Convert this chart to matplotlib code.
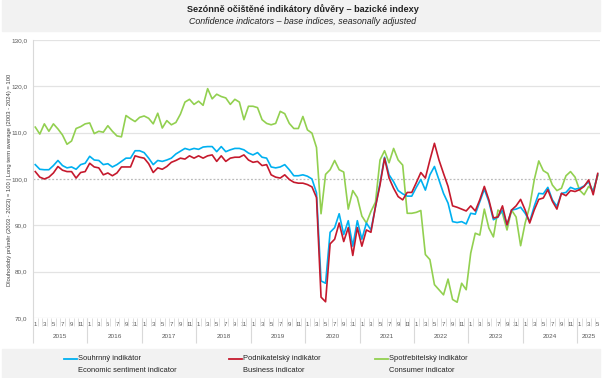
import matplotlib.pyplot as plt
from matplotlib.patches import Rectangle

plt.rcParams['font.family'] = ['Liberation Sans', 'DejaVu Sans']

# monthly values, Jan 2015 - May 2025
souhrnny = [103.1, 102.1, 102.0, 102.0, 102.9, 104.0, 102.9, 102.4, 102.6, 102.1, 103.1, 103.4,
            104.9, 104.1, 104.0, 103.1, 103.3, 102.6, 103.1, 103.8, 104.5, 104.5, 106.1, 106.1,
            105.7, 104.5, 103.1, 104.0, 103.8, 104.1, 104.5, 105.4, 106.0, 106.6, 106.3, 106.6,
            106.4, 106.9, 107.0, 107.0, 105.9, 107.0, 105.9, 106.3, 106.6, 106.6, 106.3, 105.6,
            105.2, 105.7, 104.7, 104.5, 102.6, 102.4, 102.6, 103.1, 102.0, 100.7, 100.7, 100.9,
            100.6, 100.0, 97.0, 78.0, 77.5, 88.5, 89.5, 92.5, 88.0, 91.0, 85.5, 91.0,
            87.0, 90.5, 89.0, 94.0, 99.1, 104.7, 100.9, 99.4, 97.5, 96.8, 96.3, 96.3,
            98.2, 99.9, 97.6, 100.9, 102.7, 99.8, 96.9, 94.8, 90.8, 90.6, 90.8, 90.3,
            92.6, 92.4, 95.1, 97.8, 95.1, 91.2, 91.8, 93.3, 90.1, 93.3, 93.5, 93.9,
            92.6, 90.8, 94.1, 96.9, 96.8, 98.2, 95.5, 94.1, 96.9, 97.1, 98.2, 97.8,
            98.0, 98.5, 99.4, 97.2, 101.0]
podnikatelsky = [101.6, 100.4, 100.0, 100.4, 101.3, 102.7, 101.9, 101.6, 101.6, 100.2, 101.4, 101.6,
                 103.4, 102.6, 102.4, 100.9, 101.3, 100.7, 101.3, 102.6, 102.6, 102.6, 105.0, 104.7,
                 104.5, 103.3, 101.4, 102.4, 102.1, 102.7, 103.6, 104.0, 104.5, 104.3, 105.0, 104.5,
                 105.0, 104.5, 105.0, 105.2, 103.8, 105.0, 103.8, 104.5, 104.7, 104.7, 105.2, 104.1,
                 103.6, 103.8, 102.9, 103.1, 100.9, 100.4, 100.2, 100.9, 99.9, 99.3, 99.1, 99.1,
                 98.8, 98.3, 96.0, 74.5, 73.5, 86.0, 87.0, 90.5, 86.5, 89.5, 83.5, 89.5,
                 85.5, 89.0, 88.5, 94.0, 98.7, 104.5, 100.2, 98.0, 96.2, 95.5, 97.1, 97.1,
                 99.2, 101.4, 100.2, 104.1, 107.7, 104.1, 101.2, 98.4, 94.2, 93.9, 93.5, 93.1,
                 94.2, 93.1, 95.5, 98.4, 95.5, 91.6, 91.8, 94.2, 90.1, 93.3, 94.2, 95.6,
                 93.3, 90.5, 93.3, 95.6, 95.9, 97.7, 95.2, 93.5, 96.9, 96.4, 97.5, 97.3,
                 97.7, 98.4, 99.8, 96.6, 101.2]
spotrebitelsky = [111.2, 109.7, 111.9, 110.3, 111.9, 110.8, 109.5, 107.5, 108.2, 110.9, 111.3, 111.9,
                  112.1, 109.8, 110.3, 110.1, 111.5, 110.3, 109.3, 109.1, 113.7, 113.0, 112.4, 113.3,
                  113.6, 113.1, 111.9, 114.2, 111.0, 112.6, 111.7, 112.2, 114.0, 116.6, 117.2, 116.1,
                  116.8, 115.9, 119.5, 117.3, 118.3, 117.8, 117.5, 116.1, 117.2, 116.6, 112.8, 115.7,
                  115.7, 115.4, 112.8, 112.0, 111.7, 112.0, 114.6, 114.1, 112.0, 110.9, 110.9, 113.5,
                  110.6, 109.9, 106.8, 92.5, 101.0, 102.0, 104.0, 102.0, 101.5, 93.5, 97.5, 96.0,
                  92.0, 90.5, 93.0, 95.0, 104.1, 106.1, 103.5, 106.6, 104.1, 103.0, 92.6, 92.6,
                  92.8, 93.2, 83.7, 82.6, 77.2, 76.1, 75.0, 78.4, 74.0, 73.4, 77.5, 76.1,
                  84.0, 88.3, 87.9, 93.5, 89.4, 87.5, 93.3, 92.6, 89.0, 93.3, 91.8, 85.6,
                  90.5, 94.1, 99.8, 103.9, 101.8, 101.2, 98.7, 97.5, 98.0, 100.7, 101.6, 100.4,
                  97.6, 96.6, 98.4, 97.5, 100.7]
roky = ['2015', '2016', '2017', '2018', '2019', '2020', '2021', '2022', '2023', '2024', '2025']
y_ticks = [70, 80, 90, 100, 110, 120, 130]

n = len(souhrnny)
x = list(range(n))

fig = plt.figure(figsize=(6.05, 3.78), dpi=100)

# grey bands for title and legend
fig.patches.append(Rectangle((2 / 605, 1 - 31 / 378), 598 / 605, 31 / 378,
                             transform=fig.transFigure, color='#f2f2f2', zorder=0))
fig.patches.append(Rectangle((2 / 605, 0), 598 / 605, 29 / 378,
                             transform=fig.transFigure, color='#f2f2f2', zorder=0))

fig.text(0.5, 1 - 9 / 378, 'Sezónně očištěné indikátory důvěry – bazické indexy',
         ha='center', va='center', fontsize=6.6, fontweight='bold', color='#222222')
fig.text(0.5, 1 - 21 / 378, 'Confidence indicators – base indices, seasonally adjusted',
         ha='center', va='center', fontsize=6.4, style='italic', color='#222222')

ax = fig.add_axes([33 / 605, 60 / 378, 567 / 605, 278 / 378])
ax.set_xlim(-0.5, n - 0.5)
ax.set_ylim(70, 130)

for v in y_ticks:
    if v == 100:
        ax.axhline(v, color='#bbbbbb', lw=0.9, ls=(0, (1.5, 1.5)), zorder=1)
    else:
        ax.axhline(v, color='#e3e3e3', lw=0.9, zorder=1)

ax.plot(x, spotrebitelsky, color='#92d050', lw=1.2, zorder=3)
ax.plot(x, souhrnny, color='#00b0f0', lw=1.2, zorder=3)
ax.plot(x, podnikatelsky, color='#c5192d', lw=1.2, zorder=4)

for s in ['top', 'right', 'bottom']:
    ax.spines[s].set_visible(False)
ax.spines['left'].set_color('#d9d9d9')
ax.spines['left'].set_linewidth(0.8)

ax.set_yticks(y_ticks)
ax.set_yticklabels(['%d,0' % v for v in y_ticks], fontsize=4.6, color='#595959')
ax.tick_params(axis='y', length=0, pad=4)

mesice = [i for i in x if i % 12 in (0, 2, 4, 6, 8, 10)]
ax.set_xticks(mesice)
ax.set_xticklabels([str(i % 12 + 1) for i in mesice], fontsize=4.4, color='#595959')
ax.tick_params(axis='x', length=0, pad=3)

# month separators and year separators below the axis
trans = ax.get_xaxis_transform()
ax.vlines([i - 0.5 for i in x[1:]], -0.03, 0, transform=trans, color='#d9d9d9',
          lw=0.6, clip_on=False)
starts = list(range(0, n, 12))
ax.vlines([s - 0.5 for s in starts[1:]], -0.09, 0, transform=trans, color='#d9d9d9',
          lw=0.8, clip_on=False)
ax.vlines([-0.5], -0.09, 0, transform=trans, color='#d9d9d9', lw=0.8, clip_on=False)
for k, s in enumerate(starts):
    e = min(s + 12, n)
    ax.text((s + e - 1) / 2, -0.066, roky[k], transform=trans, ha='center', va='center',
            fontsize=4.6, color='#595959')

fig.text(9 / 605, 1 - 180 / 378,
         'Dlouhodobý průměr (2003 - 2023) = 100 | Long term average (2003 - 2024) = 100',
         rotation=90, ha='center', va='center', fontsize=4.2, color='#404040')

# legend
leg = [('#00b0f0', 'Souhrnný indikátor', 'Economic sentiment indicator', 64),
       ('#c5192d', 'Podnikatelský indikátor', 'Business indicator', 229),
       ('#92d050', 'Spotřebitelský indikátor', 'Consumer indicator', 375)]
for c, t1, t2, px in leg:
    fig.lines.append(plt.Line2D([px / 605, (px + 13) / 605], [1 - 359 / 378, 1 - 359 / 378],
                                transform=fig.transFigure, color=c, lw=1.3))
    fig.text((px + 14) / 605, 1 - 359 / 378, t1, ha='left', va='center', fontsize=5.4,
             color='#222222')
    fig.text((px + 14) / 605, 1 - 370 / 378, t2, ha='left', va='center', fontsize=5.4,
             color='#222222')

plt.savefig('out.png', dpi=100)
